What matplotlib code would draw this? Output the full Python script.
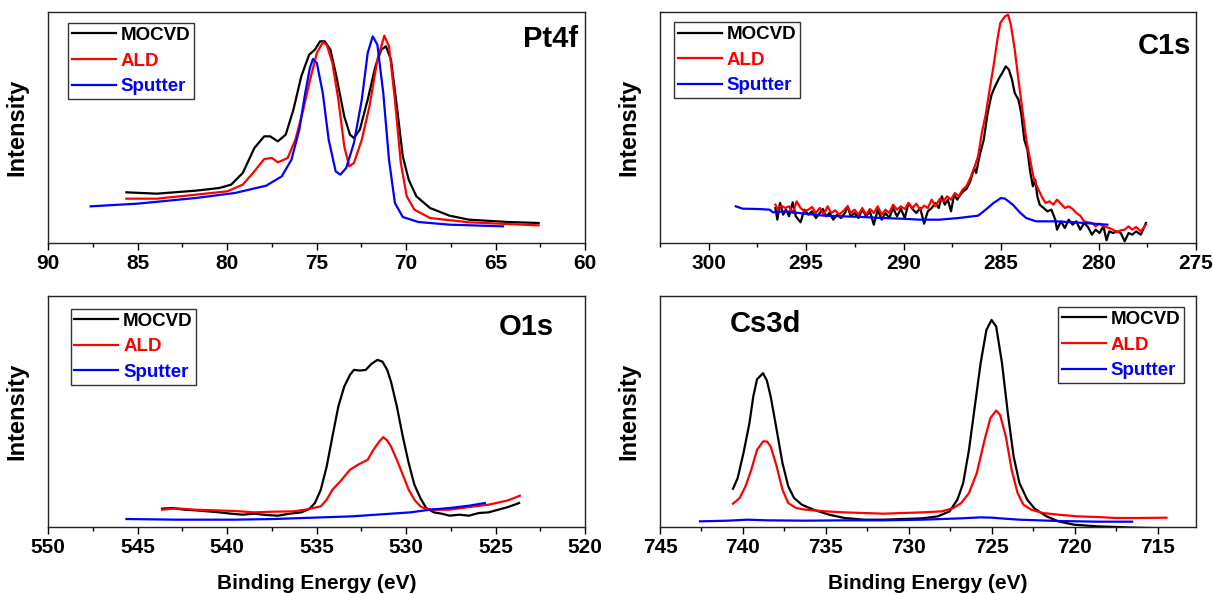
import matplotlib
matplotlib.use("Agg")
import matplotlib.pyplot as plt
from matplotlib.ticker import MultipleLocator

plt.rcParams['font.family'] = ['Liberation Sans', 'DejaVu Sans']
plt.rcParams['font.weight'] = 'bold'

# ---------------- data (binding energy eV, intensity a.u.) ----------------
series_names = ["MOCVD", "ALD", "Sputter"]
series_colors = ["#000000", "#ff0000", "#0000ff"]

# Pt4f
pt_mocvd_be = [85.62, 83.92, 81.74, 80.43, 79.77, 79.12, 78.47, 77.92, 77.59, 77.16, 76.72, 76.29,
               75.85, 75.41, 75.09, 74.80, 74.54, 74.22, 73.89, 73.45, 73.13, 72.91, 72.58, 72.14,
               71.71, 71.38, 71.12, 70.84, 70.51, 70.18, 69.85, 69.42, 68.66, 67.57, 66.48, 64.30, 62.59]
pt_mocvd_i = [152, 148, 157, 165, 175, 210, 285, 320, 320, 305, 325, 400,
              500, 565, 580, 605, 605, 580, 500, 380, 325, 315, 340, 430,
              530, 580, 590, 550, 410, 260, 190, 140, 105, 82, 70, 63, 60]
pt_ald_be = [85.62, 83.92, 81.74, 79.99, 79.12, 78.47, 77.92, 77.49, 77.16, 76.61, 76.18, 75.74,
             75.31, 74.98, 74.65, 74.43, 74.11, 73.78, 73.45, 73.17, 72.91, 72.47, 72.04, 71.60,
             71.21, 70.95, 70.62, 70.29, 69.96, 69.53, 68.66, 66.48, 62.59]
pt_ald_i = [133, 133, 145, 155, 175, 215, 252, 255, 242, 255, 310, 400,
            500, 570, 602, 595, 540, 430, 290, 230, 240, 310, 410, 550,
            622, 590, 430, 240, 140, 100, 75, 62, 53]
pt_sput_be = [87.62, 85.01, 81.74, 79.56, 77.81, 76.94, 76.40, 75.96, 75.63, 75.37, 75.20, 74.98,
              74.65, 74.32, 73.93, 73.67, 73.34, 72.91, 72.47, 72.14, 71.86, 71.60, 71.27, 70.95,
              70.62, 70.18, 69.31, 67.57, 64.58]
pt_sput_i = [110, 118, 135, 150, 172, 200, 250, 340, 450, 525, 552, 540,
             450, 310, 215, 205, 225, 300, 430, 570, 620, 595, 450, 250,
             120, 78, 63, 55, 50]

# C1s
c_mocvd_be = [296.58, 296.48, 296.34, 296.18, 296.04, 295.88, 295.69, 295.53, 295.29, 295.09,
              294.89, 294.70, 294.50, 294.30, 294.14, 293.98, 293.80, 293.61, 293.41, 293.21,
              293.01, 292.87, 292.72, 292.52, 292.32, 292.12, 291.92, 291.73, 291.53, 291.33,
              291.13, 290.93, 290.74, 290.54, 290.34, 290.14, 289.94, 289.75, 289.59, 289.35,
              289.15, 288.95, 288.76, 288.56, 288.36, 288.20, 288.04, 287.89, 287.73, 287.57,
              287.41, 287.25, 287.09, 286.94, 286.78, 286.58, 286.38, 286.28, 286.09, 285.89,
              285.69, 285.49, 285.29, 285.10, 284.96, 284.76, 284.60, 284.44, 284.30, 284.11,
              283.97, 283.81, 283.65, 283.51, 283.37, 283.25, 283.14, 283.02, 282.82, 282.62,
              282.42, 282.22, 282.13, 281.93, 281.73, 281.53, 281.33, 281.14, 280.94, 280.74,
              280.54, 280.34, 280.15, 279.95, 279.75, 279.59, 279.45, 279.26, 279.06, 278.86,
              278.66, 278.46, 278.27, 278.07, 277.83, 277.57]
c_mocvd_i = [105, 70, 120, 85, 100, 80, 122, 80, 62, 100,
             85, 95, 75, 90, 102, 80, 90, 70, 85, 75,
             90, 110, 80, 90, 75, 100, 80, 95, 55, 100,
             70, 90, 75, 105, 80, 102, 75, 120, 105, 90,
             105, 58, 95, 105, 120, 105, 140, 115, 130, 95,
             145, 130, 145, 155, 162, 185, 225, 210, 265, 310,
             390, 445, 472, 495, 508, 530, 520, 490, 450, 430,
             390, 310, 280, 215, 170, 190, 140, 115, 105, 95,
             100, 70, 40, 65, 45, 70, 55, 65, 40, 60,
             48, 25, 40, 30, 50, 8, 35, 30, 35, 30,
             5, 30, 25, 35, 25, 60]
c_ald_be = [296.58, 296.44, 296.28, 296.08, 295.88, 295.69, 295.49, 295.29, 295.09, 294.89,
            294.70, 294.50, 294.30, 294.10, 293.90, 293.71, 293.51, 293.31, 293.11, 292.87,
            292.72, 292.52, 292.32, 292.12, 291.92, 291.73, 291.53, 291.33, 291.13, 290.93,
            290.74, 290.54, 290.34, 290.14, 289.94, 289.75, 289.55, 289.35, 289.15, 288.95,
            288.76, 288.56, 288.36, 288.16, 287.97, 287.77, 287.57, 287.37, 287.17, 286.98,
            286.78, 286.58, 286.38, 286.18, 285.99, 285.79, 285.59, 285.39, 285.19, 285.04,
            284.90, 284.80, 284.64, 284.50, 284.30, 284.11, 283.91, 283.71, 283.51, 283.31,
            283.12, 282.92, 282.72, 282.52, 282.32, 282.13, 281.93, 281.73, 281.53, 281.33,
            281.14, 280.94, 280.74, 280.54, 280.34, 280.15, 279.95, 279.75, 279.45, 279.26,
            279.06, 278.86, 278.66, 278.46, 278.27, 278.07, 277.83, 277.57]
c_ald_i = [115, 100, 112, 105, 110, 90, 125, 105, 95, 100,
           108, 90, 105, 85, 110, 90, 98, 85, 95, 110,
           90, 100, 85, 105, 85, 102, 90, 110, 85, 100,
           90, 115, 100, 110, 102, 120, 105, 118, 100, 112,
           105, 130, 110, 132, 125, 140, 130, 150, 140, 160,
           170, 195, 225, 260, 330, 385, 460, 530, 610, 660,
           672, 680, 685, 655, 580, 490, 400, 310, 250, 190,
           165, 140, 120, 125, 115, 130, 118, 105, 110, 102,
           90, 82, 65, 62, 60, 50, 58, 50, 45, 40,
           32, 38, 40, 50, 40, 48, 35, 55]
c_sput_be = [298.61, 298.26, 297.47, 296.87, 296.71, 296.08, 295.09, 294.10, 293.11, 292.12,
             291.13, 290.14, 289.15, 288.16, 287.17, 286.18, 285.79, 285.39, 285.00, 284.80,
             284.40, 284.01, 283.71, 283.21, 282.22, 281.24, 280.25, 279.55]
c_sput_i = [110, 103, 102, 100, 92, 95, 88, 82, 80, 78,
            75, 73, 70, 70, 75, 82, 100, 120, 135, 133,
            115, 90, 75, 65, 65, 62, 58, 55]

# O1s
o_mocvd_be = [543.63, 543.05, 542.39, 541.74, 541.08, 540.43, 539.78, 539.12, 538.47, 537.81,
              537.16, 536.50, 535.85, 535.41, 535.09, 534.76, 534.43, 534.11, 533.78, 533.45,
              533.13, 532.91, 532.58, 532.25, 531.93, 531.60, 531.32, 531.05, 530.84, 530.51,
              530.18, 529.85, 529.53, 529.20, 528.87, 528.44, 528.00, 527.57, 527.02, 526.48,
              525.93, 525.39, 524.84, 524.30, 523.68]
o_mocvd_i = [55, 57, 52, 50, 47, 44, 40, 37, 40, 36,
             34, 40, 44, 54, 72, 112, 182, 272, 362, 422,
             457, 472, 470, 472, 490, 502, 497, 472, 437, 362,
             272, 192, 127, 87, 57, 44, 40, 34, 37, 34,
             42, 44, 52, 60, 72]
o_ald_be = [543.63, 542.83, 541.74, 540.65, 539.56, 538.47, 537.38, 536.29, 535.63, 535.20,
            534.76, 534.43, 534.11, 533.67, 533.13, 532.69, 532.14, 531.82, 531.49, 531.27,
            531.05, 530.84, 530.51, 530.18, 529.85, 529.53, 529.20, 528.87, 528.44, 527.57,
            526.48, 525.39, 524.30, 523.64]
o_ald_i = [52, 56, 52, 50, 48, 44, 46, 47, 52, 57,
           62, 82, 112, 137, 172, 187, 202, 232, 257, 270,
           260, 242, 202, 157, 112, 82, 62, 54, 52, 52,
           60, 67, 80, 94]
o_sput_be = [545.62, 542.83, 539.56, 537.38, 535.20, 533.02, 530.84, 529.75, 528.66, 527.57,
             526.48, 525.60]
o_sput_i = [24, 22, 22, 24, 28, 32, 40, 44, 52, 57, 64, 72]

# Cs3d
cs_mocvd_be = [740.60, 740.32, 739.97, 739.61, 739.38, 739.15, 738.79, 738.56, 738.33, 737.97,
               737.62, 737.27, 736.92, 736.45, 735.75, 734.81, 733.88, 732.71, 731.53, 730.36,
               729.19, 728.26, 727.55, 727.08, 726.73, 726.38, 726.03, 725.68, 725.33, 725.02,
               724.74, 724.39, 724.04, 723.69, 723.34, 722.87, 722.40, 721.70, 721.00, 720.06,
               718.65, 717.48, 716.31, 714.56]
cs_mocvd_i = [115, 147, 222, 312, 392, 444, 462, 440, 392, 292,
              192, 122, 87, 67, 52, 37, 27, 22, 22, 24,
              26, 32, 47, 82, 132, 232, 362, 492, 592, 622,
              602, 492, 342, 212, 132, 82, 54, 32, 17, 7,
              2, 0, -2, -4]
cs_ald_be = [740.60, 740.20, 739.85, 739.50, 739.15, 738.79, 738.56, 738.33, 737.97, 737.62,
             737.27, 736.80, 736.22, 735.05, 733.88, 732.71, 731.53, 730.36, 729.19, 728.02,
             727.32, 726.85, 726.38, 725.91, 725.44, 725.09, 724.74, 724.51, 724.16, 723.81,
             723.45, 723.10, 722.63, 721.93, 721.00, 719.82, 718.65, 717.48, 716.31, 714.48]
cs_ald_i = [70, 87, 122, 172, 232, 257, 257, 242, 182, 112,
            72, 57, 52, 47, 44, 42, 40, 42, 44, 47,
            57, 72, 102, 162, 262, 327, 350, 337, 272, 172,
            102, 67, 52, 42, 37, 32, 30, 27, 27, 28]
cs_sput_be = [742.59, 740.90, 739.73, 738.56, 736.22, 733.88, 731.53, 729.19, 726.85, 725.68,
              724.98, 724.51, 723.34, 722.17, 721.00, 719.82, 718.65, 716.55]
cs_sput_i = [17, 19, 22, 20, 19, 20, 20, 22, 26, 29,
             28, 26, 22, 20, 18, 17, 16, 16]

# ---------------- figure ----------------
W, H = 1213, 594
fig = plt.figure(figsize=(W / 100, H / 100), dpi=100)


def px_axes(left, top, right, bottom):
    return fig.add_axes([left / W, 1 - bottom / H, (right - left) / W, (bottom - top) / H])


panels = [
    dict(rect=(48, 12, 585, 243), xlim=(90, 60), ylim=(0, 693),
         data=[(pt_mocvd_be, pt_mocvd_i), (pt_ald_be, pt_ald_i), (pt_sput_be, pt_sput_i)],
         title="Pt4f", tpos=(0.987, 0.945), tha='right',
         leg_loc='upper left', leg_anchor=(0.037, 0.952), xlabel=False),
    dict(rect=(660, 12, 1196, 243), xlim=(302.5, 275), ylim=(0, 693),
         data=[(c_mocvd_be, c_mocvd_i), (c_ald_be, c_ald_i), (c_sput_be, c_sput_i)],
         title="C1s", tpos=(0.99, 0.915), tha='right',
         leg_loc='upper left', leg_anchor=(0.027, 0.955), xlabel=False),
    dict(rect=(48, 296, 585, 527), xlim=(550, 520), ylim=(0, 694),
         data=[(o_mocvd_be, o_mocvd_i), (o_ald_be, o_ald_i), (o_sput_be, o_sput_i)],
         title="O1s", tpos=(0.942, 0.925), tha='right',
         leg_loc='upper left', leg_anchor=(0.042, 0.944), xlabel=True),
    dict(rect=(660, 296, 1196, 527), xlim=(745, 712.7), ylim=(0, 694),
         data=[(cs_mocvd_be, cs_mocvd_i), (cs_ald_be, cs_ald_i), (cs_sput_be, cs_sput_i)],
         title="Cs3d", tpos=(0.13, 0.94), tha='left',
         leg_loc='upper right', leg_anchor=(0.978, 0.952), xlabel=True),
]

for p in panels:
    ax = px_axes(*p['rect'])
    for (be, inten), name, col in zip(p['data'], series_names, series_colors):
        ax.plot(be, inten, color=col, lw=1.6, label=name)
    ax.set_xlim(*p['xlim'])
    ax.set_ylim(*p['ylim'])
    ax.xaxis.set_major_locator(MultipleLocator(5))
    ax.xaxis.set_minor_locator(MultipleLocator(2.5))
    ax.set_yticks([])
    ax.tick_params(axis='x', which='major', direction='out', length=5, width=1,
                   labelsize=15, pad=3)
    ax.tick_params(axis='x', which='minor', direction='out', length=3, width=1)
    for lab in ax.get_xticklabels():
        lab.set_fontweight('bold')
    for s in ax.spines.values():
        s.set_linewidth(1.0)
        s.set_color('#222222')
    ax.set_ylabel("Intensity", fontsize=17, fontweight='bold')
    ax.yaxis.set_label_coords(-0.036, 0.5)
    if p['xlabel']:
        ax.set_xlabel("Binding Energy (eV)", fontsize=15, fontweight='bold')
        ax.xaxis.set_label_coords(0.5, -0.205)
    ax.text(p['tpos'][0], p['tpos'][1], p['title'], transform=ax.transAxes,
            ha=p['tha'], va='top', fontsize=21, fontweight='bold')
    leg = ax.legend(loc=p['leg_loc'], bbox_to_anchor=p['leg_anchor'], frameon=True,
                    fancybox=False, shadow=False, handlelength=2.35,
                    handletextpad=0.25, borderpad=0.2, labelspacing=0.45,
                    borderaxespad=0.0, prop=dict(weight='bold', size=13.5))
    leg.get_frame().set_edgecolor('black')
    leg.get_frame().set_linewidth(1.0)
    for txt, col in zip(leg.get_texts(), series_colors):
        txt.set_color(col)

fig.savefig("out.png", dpi=100)
